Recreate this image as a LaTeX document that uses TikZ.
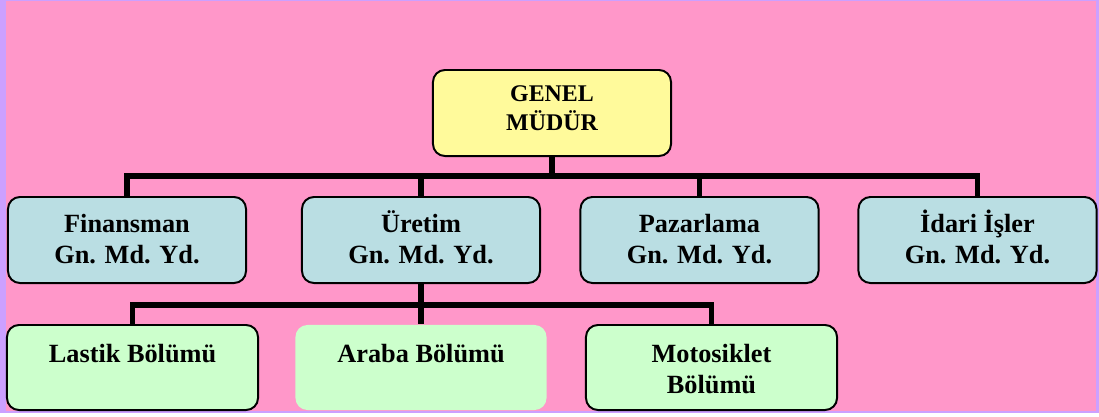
\documentclass[tikz,border=0pt]{standalone}
\usepackage{fontspec}
\setmainfont{Liberation Serif}
\definecolor{pinkbg}{RGB}{255,151,201}
\definecolor{lilac}{RGB}{204,160,255}
\definecolor{gmyellow}{RGB}{255,250,155}
\definecolor{gdblue}{RGB}{186,222,227}
\definecolor{blgreen}{RGB}{204,255,204}
\begin{document}
\begin{tikzpicture}[x=0.025cm, y=-0.025cm]
		\tikzset{box/.style={draw=black, line width=1.4pt, rounded corners=8.5pt, align=center, inner sep=0pt, font=\fontsize{18.7}{22}\selectfont\bfseries}};
		\tikzset{gm/.style={box, fill=gmyellow, minimum width=5.95cm, minimum height=2.15cm, font=\fontsize{17}{20}\selectfont\bfseries, text height=24.2pt, text depth=0pt}};
		\tikzset{gd/.style={box, fill=gdblue, minimum width=5.95cm, minimum height=2.15cm, text height=34pt, text depth=0pt}};
		\tikzset{bl/.style={box, fill=blgreen, minimum width=6.275cm, minimum height=2.125cm, text height=36.3pt, text depth=0pt}};
		\tikzset{oneline/.style={text height=6pt, text depth=13.8pt}};
		\tikzset{link/.style={line width=4.2pt}};

		\useasboundingbox (0,0) rectangle (1099,416);
		\fill[white] (0,0) rectangle (1099,416);
		\fill[lilac] (0,0) rectangle (1099,413);
		\fill[pinkbg] (6,1) rectangle (1096,411);

		\node[gm] (genel) at (552, 113) {GENEL\\MÜDÜR};
		\node[gd] (fin) at (127, 240) {Finansman\\Gn. Md. Yd.};
		\node[gd] (uretim) at (421, 240) {Üretim\\Gn. Md. Yd.};
		\node[gd] (paz) at (699.5, 240) {Pazarlama\\Gn. Md. Yd.};
		\node[gd] (idari) at (977.5, 240) {İdari İşler\\Gn. Md. Yd.};
		\node[bl, oneline] (lastik) at (132.5, 367.5) {Lastik Bölümü};
		\node[bl, oneline, draw=none] (araba) at (421, 367.5) {Araba Bölümü};
		\node[bl] (moto) at (711.5, 367.5) {Motosiklet\\Bölümü};

		\coordinate (b1) at (552, 176);
		\coordinate (b2) at (421, 305);

		\draw[link] (genel) -- (b1);
		\draw[link] (b1) -| (fin);
		\draw[link] (b1) -| (uretim);
		\draw[link] (b1) -| (paz);
		\draw[link] (b1) -| (idari);

		\draw[link] (uretim) -- (araba);
		\draw[link] (b2) -| (lastik);
		\draw[link] (b2) -| (moto);
\end{tikzpicture}
\end{document}
